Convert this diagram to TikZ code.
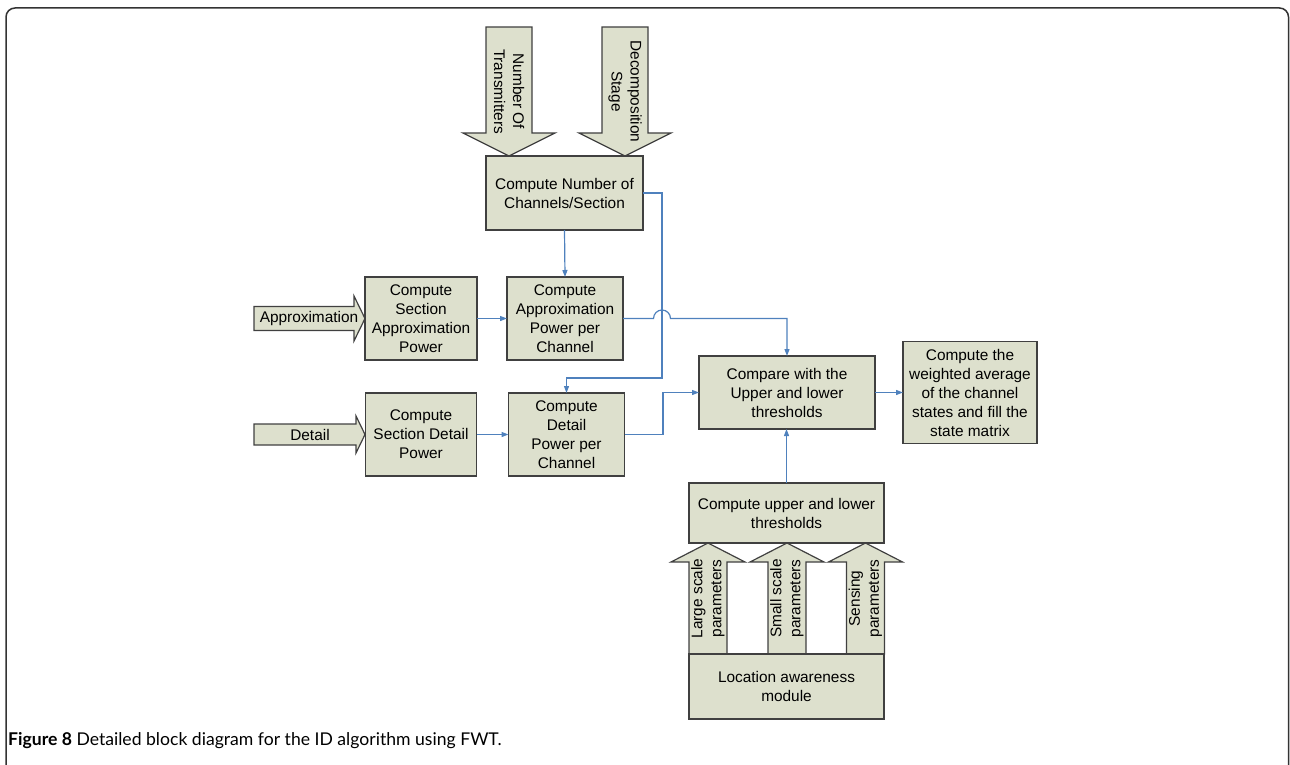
\documentclass[tikz,border=0pt]{standalone}
\usepackage{fontspec}
\setmainfont{Liberation Sans}
\newfontfamily\capfont{Lato}
\usepackage{tikz}
\usetikzlibrary{positioning, calc, arrows.meta}
\definecolor{boxfill}{RGB}{221,224,205}
\definecolor{boxline}{RGB}{64,64,64}
\definecolor{linkblue}{RGB}{79,129,189}

\begin{document}
\begin{tikzpicture}[
    x=1pt, y=-1pt,
    >={Triangle[length=7pt, width=5pt]},
    blk/.style={draw=boxline, fill=boxfill, line width=1.2pt, inner sep=0pt,
        outer sep=0pt, align=center, font=\fontsize{15.4}{19}\selectfont},
    bigarr/.style={draw=boxline, fill=boxfill, line width=1.2pt, line join=miter},
    lbl/.style={inner sep=0pt, align=center, font=\fontsize{15.4}{19}\selectfont},
    link/.style={->, draw=linkblue, line width=1.2pt}
]
\useasboundingbox (0,0) rectangle (1290,765);

% 外框
\draw[line width=1.5pt, draw=black!80, rounded corners=9pt]
    (6,770) -- (6,8) -- (1288.5,8) -- (1288.5,770);

% 输入箭头
\foreach \cx/\txt [count=\i] in {509/{Number Of\\Transmitters}, 625/{Decomposition\\Stage}} {
    \draw[bigarr] (\cx-23,27) -- (\cx+23,27) -- (\cx+23,133) -- (\cx+46,133)
        -- (\cx,156) -- (\cx-46,133) -- (\cx-23,133) -- cycle;
    \node[lbl, rotate=-90] (in\i) at (\cx,91.5) {\txt};
}
\draw[bigarr] (254,306.5) -- (354,306.5) -- (354,296) -- (365,318.5)
    -- (354,341) -- (354,330.5) -- (254,330.5) -- cycle;
\node[lbl] (inA) at (309,318.5) {Approximation};
\draw[bigarr] (254,424) -- (356,424) -- (356,416) -- (365,434.5)
    -- (356,453) -- (356,445) -- (254,445) -- cycle;
\node[lbl] (inD) at (310,434.5) {Detail};
\foreach \cx/\txt [count=\i] in {708/{Large scale\\parameters}, 787/{Small scale\\parameters}, 865.5/{Sensing\\parameters}} {
    \draw[bigarr] (\cx-19,654) -- (\cx-19,562) -- (\cx-37,562) -- (\cx,543)
        -- (\cx+37,562) -- (\cx+19,562) -- (\cx+19,654) -- cycle;
    \node[lbl, rotate=90] (par\i) at (\cx,598.5) {\txt};
}

% 定义方框
\node[blk, minimum width=157pt, minimum height=74pt] (chan) at (564.5,193) {Compute Number of\\Channels/Section};
\node[blk, minimum width=112pt, minimum height=83pt] (secA) at (421,318.5) {Compute\\Section\\Approximation\\Power};
\node[blk, minimum width=116pt, minimum height=83pt, right=30pt of secA] (powA) {Compute\\Approximation\\Power per\\Channel};
\node[blk, minimum width=111pt, minimum height=83pt] (secD) at (421,434.5) {Compute\\Section Detail\\Power};
\node[blk, minimum width=116pt, minimum height=83pt, right=32pt of secD] (powD) {Compute\\Detail\\Power per\\Channel};
\node[blk, minimum width=176pt, minimum height=73pt] (cmp) at (787,392.5) {Compare with the\\Upper and lower\\thresholds};
\node[blk, minimum width=134pt, minimum height=102pt, right=28pt of cmp] (avg) {Compute the\\weighted average\\of the channel\\states and fill the\\state matrix};
\node[blk, minimum width=195pt, minimum height=60pt] (thr) at (786.5,513) {Compute upper and lower\\thresholds};
\node[blk, minimum width=195pt, minimum height=65pt] (loc) at (786.5,686.5) {Location awareness\\module};

% 定义连线
\coordinate (bus) at (662,378);
\draw[link] (chan.south) -- (powA.north);
\draw[link] (secA) -- (powA);
\draw[link] (secD) -- (powD);
\draw[link] (chan.east) -| (bus) -| (powD.north);
\draw[link] (powA.east) -- ($(bus |- powA.east)+(-8.5,0)$)
    arc[start angle=180, end angle=0, radius=8.5pt] -| (cmp.north);
\draw[link] (powD.east) -- ++(38.5,0) |- (cmp.west);
\draw[link] (cmp) -- (avg);
\draw[link] (thr.north) -- (thr.north |- cmp.south);

% 图注
\node[anchor=base west, inner sep=0pt, font=\capfont\fontsize{17.6}{20}\selectfont] (cap) at (8,745)
    {\textbf{Figure 8} Detailed block diagram for the ID algorithm using FWT.};
\end{tikzpicture}
\end{document}
